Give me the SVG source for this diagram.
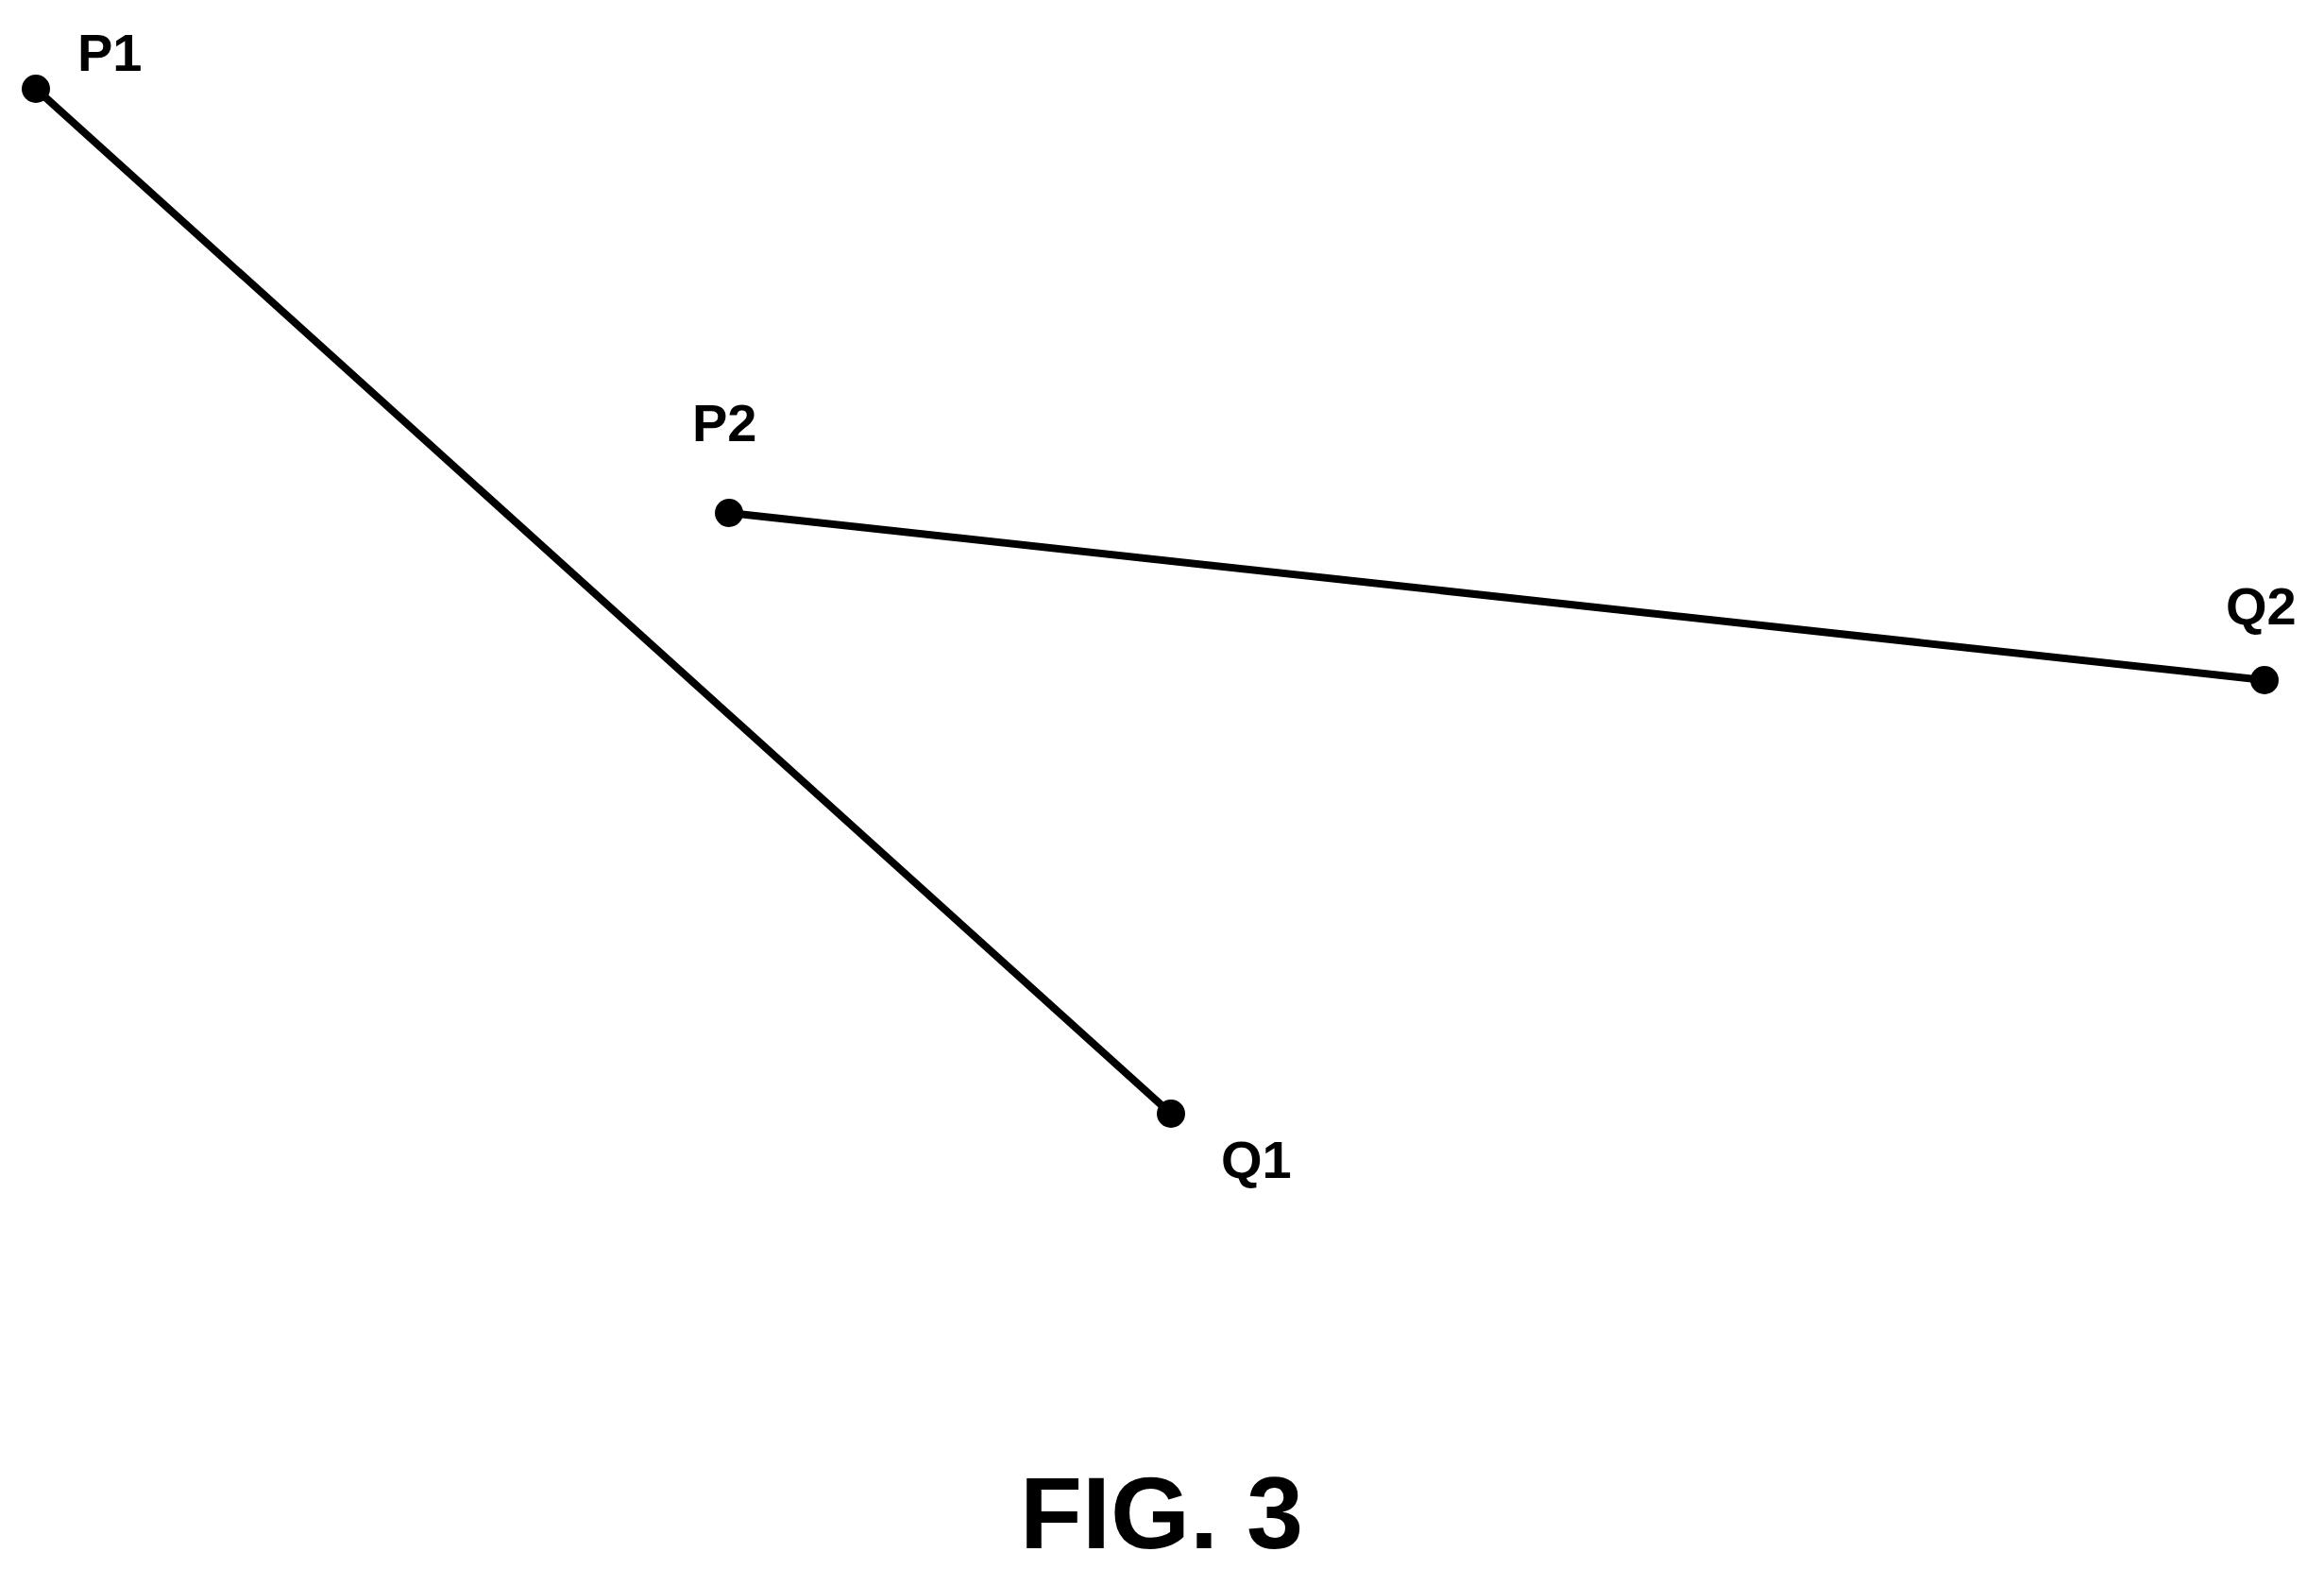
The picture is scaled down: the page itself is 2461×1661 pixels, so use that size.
<svg xmlns="http://www.w3.org/2000/svg" width="2461" height="1661" viewBox="0 0 2461 1661">
<style>
.l{stroke:#000;stroke-width:8;fill:none}
.d{fill:#000}
.t{font-family:"Liberation Sans",Arial,sans-serif;font-weight:bold;font-size:56px;fill:#000}
.f{font-family:"Liberation Sans",Arial,sans-serif;font-weight:bold;font-size:108px;fill:#000}
</style>
<rect width="2461" height="1661" fill="#fff"/>
<g id="connectors">
<line class="l" x1="38" y1="94" x2="1240" y2="1179"/>
<line class="l" x1="772" y1="543" x2="2398" y2="720"/>
</g>
<g id="P1"><circle class="d" cx="38" cy="94" r="15"/><text class="t" x="82" y="75">P1</text></g>
<g id="Q1"><circle class="d" cx="1240" cy="1179" r="15"/><text class="t" x="1293" y="1247">Q1</text></g>
<g id="P2"><circle class="d" cx="772" cy="543" r="15"/><text class="t" x="733" y="467">P2</text></g>
<g id="Q2"><circle class="d" cx="2398" cy="720" r="15"/><text class="t" x="2357" y="661">Q2</text></g>
<text class="f" x="1230" y="1639" text-anchor="middle">FIG. 3</text>
</svg>
